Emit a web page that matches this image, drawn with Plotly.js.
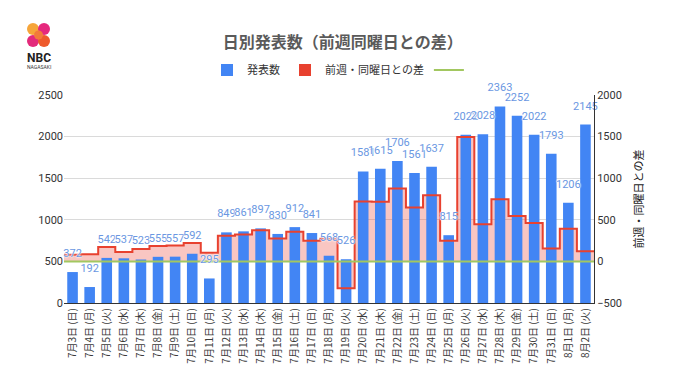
<!DOCTYPE html>
<html><head><meta charset="utf-8">
<script src="https://cdn.plot.ly/plotly-3.0.1.min.js"></script>
<style>html,body{margin:0;padding:0;background:#fff}#c{width:680px;height:382px}</style>
</head><body><div id="c"></div>
<script>
const dates = ["7月3日 (日)","7月4日 (月)","7月5日 (火)","7月6日 (水)","7月7日 (木)","7月8日 (金)","7月9日 (土)",
"7月10日 (日)","7月11日 (月)","7月12日 (火)","7月13日 (水)","7月14日 (木)","7月15日 (金)","7月16日 (土)",
"7月17日 (日)","7月18日 (月)","7月19日 (火)","7月20日 (水)","7月21日 (木)","7月22日 (金)","7月23日 (土)",
"7月24日 (日)","7月25日 (月)","7月26日 (火)","7月27日 (水)","7月28日 (木)","7月29日 (金)","7月30日 (土)",
"7月31日 (日)","8月1日 (月)","8月2日 (火)"];
const counts = [372,192,542,537,523,555,557,592,295,849,861,897,830,912,841,568,526,1581,1615,1706,1561,1637,815,2022,2028,2363,2252,2022,1793,1206,2145];
const diffs = [80,85,172,112,150,184,190,220,103,307,324,374,275,355,249,273,-323,720,718,876,649,796,247,1496,447,748,546,461,156,391,123];
const baseline = [0,0,0,0,0,0,0,0,0,0,0,0,0,0,0,0,0,0,0,0,0,0,0,0,0,0,0,0,0,0,0];
const leftTicks = [0,500,1000,1500,2000,2500];
const rightTicks = [-500,0,500,1000,1500,2000];

const idx = dates.map((d,i)=>i);
const stepX = idx.map(i=>i-0.5).concat([dates.length-0.5]);
const stepY = diffs.concat([diffs[diffs.length-1]]);
const lineX = [-0.5].concat(idx).concat([dates.length-0.5]);
const lineY = [baseline[0]].concat(baseline).concat([baseline[baseline.length-1]]);

const BLUE='#4285F4', RED='#E8412F', PINK='rgba(234,67,53,0.3)', GREEN='#A2C760';
const F = '"Noto Sans CJK JP", Roboto, sans-serif';
const NUM = 'Roboto, "Liberation Sans", sans-serif';

const traces = [
  {type:'scatter', x:stepX, y:stepY, xaxis:'x', yaxis:'y', mode:'none', fill:'tozeroy',
   fillcolor:PINK, line:{shape:'hv', width:0}, showlegend:false, hoverinfo:'skip'},
  {type:'bar', x:idx, y:counts, xaxis:'x', yaxis:'y2', name:'発表数', marker:{color:BLUE}, hoverinfo:'skip'},
  // legend proxy for the difference series (its bars fall outside the hidden axis range)
  {type:'bar', x:idx, y:diffs, xaxis:'x', yaxis:'y5', name:'前週・同曜日との差', marker:{color:RED},
   legendgroup:'d', hoverinfo:'skip'},
  {type:'scatter', x:stepX, y:stepY, xaxis:'x', yaxis:'y3', mode:'lines', line:{shape:'hv', color:RED, width:2},
   showlegend:false, legendgroup:'d', hoverinfo:'skip'},
  {type:'scatter', x:lineX, y:lineY, xaxis:'x', yaxis:'y3', mode:'lines', name:' ',
   line:{color:GREEN, width:2}, hoverinfo:'skip'},
  {type:'scatter', x:idx, y:counts, xaxis:'x', yaxis:'y4', mode:'markers+text', text:counts.map(String),
   textposition:'top center', marker:{size:18, color:'rgba(0,0,0,0)'}, showlegend:false, hoverinfo:'skip',
   cliponaxis:false,
   textfont:{family:NUM, size:11, color:'#6A97E2', shadow:'0 0 2px #fff, 0 0 2px #fff, 0 0 1px #fff'}}
];

const L=64, R=594, T=95, B=303;
const px=(x)=>(x-L)/(R-L), py=(y)=>(B-y)/(B-T);
const circ=(cx,cy,r,col)=>({type:'circle', xref:'paper', yref:'paper', x0:px(cx-r), x1:px(cx+r), y0:py(cy+r), y1:py(cy-r),
  fillcolor:col, line:{width:0}, layer:'above'});

const layout = {
  width:680, height:382, paper_bgcolor:'#fff', plot_bgcolor:'#fff',
  margin:{l:L, r:680-R, t:T, b:382-B},
  font:{family:F, color:'#444', size:11},
  title:{text:'日別発表数（前週同曜日との差）', x:0.504, xanchor:'center', y:1-42/382, yanchor:'middle',
    font:{family:F, size:16, color:'#5a5a5a', weight:'bold'}},
  showlegend:true,
  legend:{orientation:'h', x:px(342), xanchor:'center', y:py(70), yanchor:'middle', font:{size:11, color:'#333'},
    traceorder:'normal', itemwidth:30},
  bargap:0.38,
  xaxis:{type:'linear', range:[-0.5, dates.length-0.5], tickvals:idx, ticktext:dates, tickangle:-90,
    showgrid:false, zeroline:false, showline:true, linecolor:'#333', linewidth:1, ticks:'',
    tickfont:{size:10, color:'#3a3a3a'}, fixedrange:true},
  yaxis:{side:'right', range:[-500,2000], tickvals:rightTicks, showgrid:true, gridcolor:'#DADADA', zeroline:false,
    showline:true, linecolor:'#333', ticks:'', tickfont:{family:NUM, size:11, color:'#333'},
    title:{text:'前週・同曜日との差', font:{size:11, color:'#222'}, standoff:14}},
  yaxis2:{side:'left', overlaying:'y', range:[0,2500], tickvals:leftTicks, showgrid:false, zeroline:false,
    showline:false, ticks:'', tickfont:{family:NUM, size:11, color:'#333'}},
  yaxis3:{overlaying:'y', range:[-500,2000], visible:false},
  yaxis4:{overlaying:'y', range:[0,2500], visible:false},
  yaxis5:{overlaying:'y', range:[100000,100001], visible:false},
  shapes:[
    circ(33,29,6,'#F6A53A'), circ(44,29,6,'#E5287D'),
    circ(33,41,6,'#E32A7B'), circ(44,41,6,'#EE5A2C'),
    circ(38.5,35,4.5,'#F27A3A')
  ],
  annotations:[
    {xref:'paper', yref:'paper', x:px(39), y:py(58), xanchor:'center', yanchor:'middle', text:'NBC', showarrow:false,
     font:{family:'Roboto, sans-serif', size:12, color:'#222', weight:'bold'}},
    {xref:'paper', yref:'paper', x:px(39), y:py(67), xanchor:'center', yanchor:'middle', text:'NAGASAKI', showarrow:false,
     font:{family:'Roboto, sans-serif', size:5, color:'#333'}}
  ]
};
Plotly.newPlot('c', traces, layout, {staticPlot:true, displayModeBar:false});
</script></body></html>
